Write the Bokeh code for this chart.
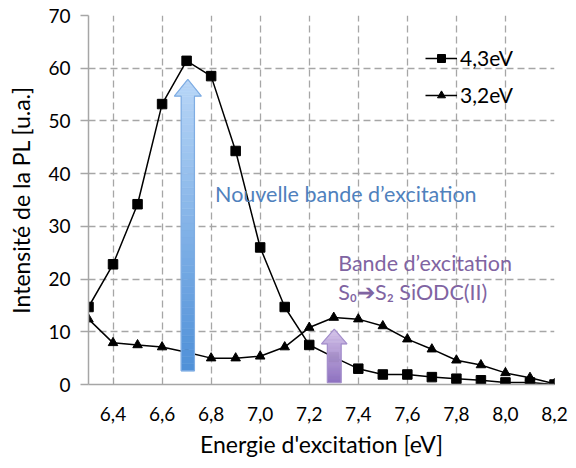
import numpy as np
from bokeh.plotting import figure
from bokeh.models import Range1d, FixedTicker, CustomJSTickFormatter, Label
from bokeh.embed import file_html
from bokeh.resources import INLINE

# ---- data ----
energy = [6.3, 6.4, 6.5, 6.6, 6.7, 6.8, 6.9, 7.0, 7.1, 7.2,
          7.3, 7.4, 7.5, 7.6, 7.7, 7.8, 7.9, 8.0, 8.1, 8.2]
pl_43 = [14.7, 22.8, 34.2, 53.2, 61.4, 58.5, 44.3, 26.0, 14.7, 7.5,
         5.2, 3.0, 1.9, 1.9, 1.4, 1.1, 0.8, 0.4, 0.4, 0.0]
pl_32 = [12.4, 7.9, 7.5, 7.1, 6.1, 5.0, 5.0, 5.35, 7.1, 10.8,
         12.7, 12.4, 11.1, 8.6, 6.7, 4.6, 3.7, 2.2, 1.3, 0.15]
series_labels = ["4,3eV", "3,2eV"]
x_ticks = [6.4, 6.6, 6.8, 7.0, 7.2, 7.4, 7.6, 7.8, 8.0, 8.2]
y_ticks = [0, 10, 20, 30, 40, 50, 60, 70]

FONT = "Lato"
GRID = "#a6a6a6"

p = figure(width=568, height=460, output_backend="svg", toolbar_location=None,
           x_range=Range1d(6.3, 8.2), y_range=Range1d(0, 70),
           min_border_left=88, min_border_right=14, min_border_top=15,
           min_border_bottom=76)
p.outline_line_color = None
p.background_fill_color = "white"

# axes
p.xaxis.ticker = FixedTicker(ticks=x_ticks)
p.yaxis.ticker = FixedTicker(ticks=y_ticks)
p.xaxis.formatter = CustomJSTickFormatter(code="return tick.toFixed(1).replace('.', ',');")
for ax in (p.xaxis, p.yaxis):
    ax.axis_line_color = GRID
    ax.axis_line_width = 1.5
    ax.major_tick_line_color = GRID
    ax.major_tick_line_width = 1.5
    ax.minor_tick_line_color = None
    ax.major_label_text_font = FONT
    ax.major_label_text_font_size = "19px"
    ax.major_label_text_color = "#000000"
    ax.axis_label_text_font = FONT
    ax.axis_label_text_font_size = "23px"
    ax.axis_label_text_font_style = "normal"
    ax.axis_label_text_color = "#000000"
p.yaxis.major_tick_in = 0
p.yaxis.major_tick_out = 8
p.yaxis.major_label_standoff = 10
p.yaxis.axis_label_standoff = 10
p.xaxis.major_tick_in = 0
p.xaxis.major_tick_out = 0
p.xaxis.major_label_standoff = 22
p.xaxis.axis_label_standoff = 6
p.xaxis.axis_label = "Energie d'excitation [eV]"
p.yaxis.axis_label = "Intensité de la PL [u.a.]"

for g in (p.xgrid, p.ygrid):
    g.grid_line_color = GRID
    g.grid_line_dash = "7 4"
    g.grid_line_width = 1.3

# series
p.line(energy, pl_43, line_color="black", line_width=1.5, legend_label=series_labels[0])
p.scatter(energy, pl_43, marker="square", size=9.5, fill_color="black",
          line_color="black", legend_label=series_labels[0])
p.line(energy, pl_32, line_color="black", line_width=1.5, legend_label=series_labels[1])
p.scatter(energy, pl_32, marker="triangle", size=9.5, fill_color="black",
          line_color="black", legend_label=series_labels[1])


# gradient arrows (annotations)
def hex2rgb(h):
    h = h.lstrip("#")
    return [int(h[i:i + 2], 16) for i in (0, 2, 4)]


def mix(c_bot, c_top, t):
    a, b = hex2rgb(c_bot), hex2rgb(c_top)
    return "#%02x%02x%02x" % tuple(int(round(a[i] + (b[i] - a[i]) * t)) for i in range(3))


def gradient_arrow(xc, y_bot, y_head, y_tip, hs, hh, c_bot, c_top, c_line):
    xs, ys, cols = [], [], []
    total = y_tip - y_bot
    shaft = np.linspace(y_bot, y_head, 40)
    for y0, y1 in zip(shaft[:-1], shaft[1:]):
        xs.append([xc - hs, xc + hs, xc + hs, xc - hs])
        ys.append([y0, y0, y1, y1])
        cols.append(mix(c_bot, c_top, ((y0 + y1) / 2 - y_bot) / total))
    head = np.linspace(y_head, y_tip, 12)
    for y0, y1 in zip(head[:-1], head[1:]):
        w0 = hh * (y_tip - y0) / (y_tip - y_head)
        w1 = hh * (y_tip - y1) / (y_tip - y_head)
        xs.append([xc - w0, xc + w0, xc + w1, xc - w1])
        ys.append([y0, y0, y1, y1])
        cols.append(mix(c_bot, c_top, ((y0 + y1) / 2 - y_bot) / total))
    p.patches(xs, ys, fill_color=cols, line_color=cols, line_width=0.6)
    p.patch([xc - hs, xc - hs, xc - hh, xc, xc + hh, xc + hs, xc + hs],
            [y_bot, y_head, y_head, y_tip, y_head, y_head, y_bot],
            fill_alpha=0, line_color=c_line, line_width=1.2)


gradient_arrow(6.705, 2.6, 54.7, 57.9, 0.027, 0.055, "#4f90d8", "#b8d6f7", "#7fade3")
gradient_arrow(7.302, 0.35, 7.7, 10.5, 0.028, 0.052, "#8a6cbd", "#d3c2e8", "#a590cc")

# annotation texts
p.add_layout(Label(x=6.816, y=36.2, text="Nouvelle bande d\u2019excitation",
                   text_font=FONT, text_font_size="21.5px", text_color="#4f81bd",
                   text_baseline="alphabetic"))
p.add_layout(Label(x=7.318, y=23.0, text="Bande d\u2019excitation",
                   text_font=FONT, text_font_size="21.5px", text_color="#8064a2",
                   text_baseline="alphabetic"))
p.add_layout(Label(x=7.318, y=17.6, text="S\u2080\u2794S\u2082 SiODC(II)",
                   text_font=FONT, text_font_size="21.5px", text_color="#8064a2",
                   text_baseline="alphabetic"))

# legend
lg = p.legend[0]
lg.location = (337, 277)
lg.glyph_width = 32
lg.glyph_height = 20
lg.label_height = 20
lg.spacing = 12
lg.padding = 0
lg.margin = 0
lg.label_standoff = 3
lg.background_fill_alpha = 0
lg.border_line_alpha = 0
lg.label_text_font = FONT
lg.label_text_font_size = "21px"
lg.label_text_color = "#000000"

open("out.html", "w").write(file_html(p, INLINE))
